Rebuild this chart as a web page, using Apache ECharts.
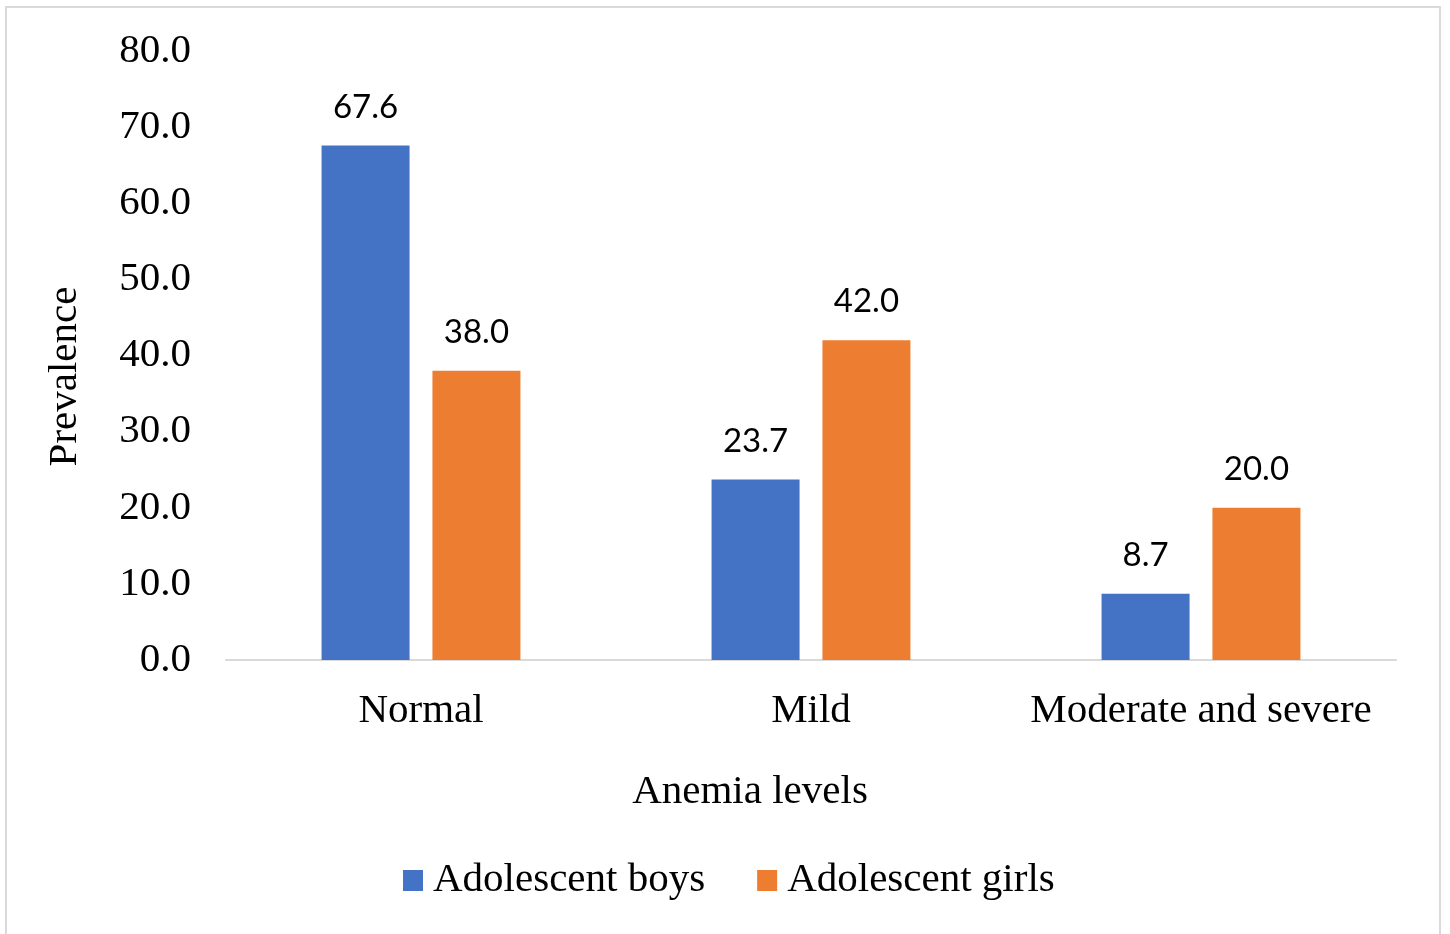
<!DOCTYPE html>
<html>
<head>
<meta charset="utf-8">
<script src="https://cdn.jsdelivr.net/npm/echarts@6/dist/echarts.min.js"></script>
<style>
html,body{margin:0;padding:0;background:#fff;}
#frame{position:absolute;left:5px;top:6px;width:1436px;height:940px;border:2px solid #d9d9d9;box-sizing:border-box;}
#chart{position:absolute;left:0;top:0;width:1450px;height:934px;}
</style>
</head>
<body>
<div id="frame"></div>
<div id="chart"></div>
<script>
const categories = ['Normal', 'Mild', 'Moderate and severe'];
const seriesNames = ['Adolescent boys', 'Adolescent girls'];
const boys = [67.6, 23.7, 8.7];
const girls = [38.0, 42.0, 20.0];
const yTicks = {min: 0, max: 80, interval: 10};

const serif = 'Liberation Serif, Times New Roman, serif';
const chart = echarts.init(document.getElementById('chart'));
const labelCfg = {
  show: true, position: 'top', distance: 22,
  fontFamily: 'Lato, sans-serif', fontSize: 33, color: '#000',
  formatter: p => p.value.toFixed(1)
};
chart.setOption({
  animation: false,
  backgroundColor: 'transparent',
  grid: {left: 226, right: 54, top: 51, bottom: 274, containLabel: false},
  legend: {
    data: seriesNames, bottom: 28, left: 398,
    itemWidth: 20, itemHeight: 21, itemGap: 52,
    textStyle: {fontFamily: serif, fontSize: 41, color: '#000', padding: [0, 0, 0, 5]},
    icon: 'rect'
  },
  xAxis: {
    type: 'category', data: categories,
    name: 'Anemia levels', nameLocation: 'middle', nameGap: 112,
    nameTextStyle: {fontFamily: serif, fontSize: 41, color: '#000', padding: [0, 122, 0, 0]},
    axisTick: {show: false},
    axisLine: {lineStyle: {color: '#d9d9d9', width: 2}},
    axisLabel: {fontFamily: serif, fontSize: 41, color: '#000', margin: 31, interval: 0}
  },
  yAxis: {
    type: 'value', min: yTicks.min, max: yTicks.max, interval: yTicks.interval,
    name: 'Prevalence', nameLocation: 'middle', nameGap: 140,
    nameTextStyle: {fontFamily: serif, fontSize: 41, color: '#000', padding: [0, 42, 0, 0]},
    splitLine: {show: false},
    axisLine: {show: false}, axisTick: {show: false},
    axisLabel: {fontFamily: serif, fontSize: 41, color: '#000', margin: 35,
      formatter: v => v.toFixed(1)}
  },
  series: [
    {name: seriesNames[0], type: 'bar', data: boys, barWidth: 88, barGap: '26%',
     itemStyle: {color: '#4472C4'}, label: labelCfg},
    {name: seriesNames[1], type: 'bar', data: girls, barWidth: 88, barGap: '26%',
     itemStyle: {color: '#ED7D31'}, label: labelCfg}
  ]
});
</script>
</body>
</html>
